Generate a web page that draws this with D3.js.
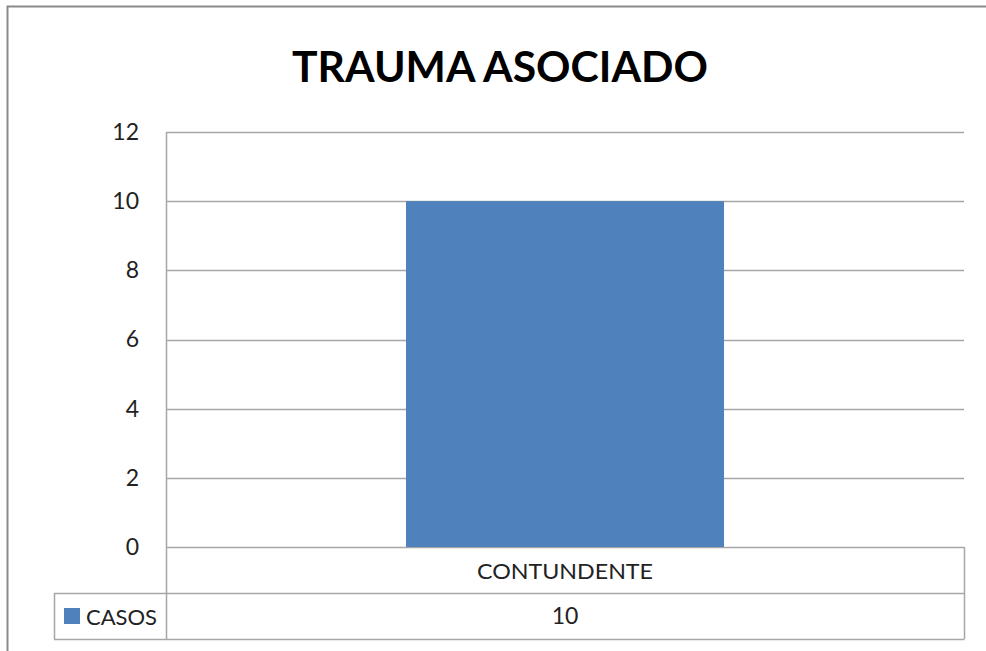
<!DOCTYPE html>
<html><head><meta charset="utf-8">
<script src="https://cdn.jsdelivr.net/npm/d3@7"></script>
<style>body{margin:0;background:#fff}svg{display:block}</style>
</head><body>
<script>
const title = "TRAUMA ASOCIADO";
const categories = ["CONTUNDENTE"];
const seriesName = "CASOS";
const values = [10];
const yTicks = [0, 2, 4, 6, 8, 10, 12];

const W = 986, H = 651;
const svg = d3.select("body").append("svg").attr("width", W).attr("height", H);
const font = "Lato, 'Open Sans', 'DejaVu Sans', sans-serif";

// outer border
svg.append("rect").attr("x", 7.5).attr("y", 6.5).attr("width", W + 10).attr("height", H + 10)
  .attr("fill", "#fff").attr("stroke", "#8a8a8a").attr("stroke-width", 2);

const m = {left: 166, top: 132, right: 964, bottom: 547};
const x = d3.scaleBand().domain(categories).range([m.left, m.right]).paddingInner(0).paddingOuter(0);
const y = d3.scaleLinear().domain([0, 12]).range([m.bottom, m.top]);

// gridlines
svg.append("g").selectAll("line").data(yTicks).join("line")
  .attr("x1", m.left).attr("x2", m.right)
  .attr("y1", d => Math.round(y(d)) + 0.5).attr("y2", d => Math.round(y(d)) + 0.5)
  .attr("stroke", "#a6a6a6").attr("stroke-width", 1.5);

// y axis line
svg.append("line").attr("x1", m.left + 0.5).attr("x2", m.left + 0.5)
  .attr("y1", m.top).attr("y2", 639).attr("stroke", "#a6a6a6").attr("stroke-width", 1.5);

// bars
const barW = 318;
svg.append("g").selectAll("rect").data(values).join("rect")
  .attr("x", (d, i) => x(categories[i]) + x.bandwidth() / 2 - barW / 2)
  .attr("width", barW)
  .attr("y", d => y(d)).attr("height", d => y(0) - y(d))
  .attr("fill", "#4f81bd");

// y tick labels
const yAxis = d3.axisLeft(y).tickValues(yTicks).tickSize(0).tickPadding(27);
const ga = svg.append("g").attr("transform", `translate(${m.left},0)`).call(yAxis);
ga.select(".domain").remove();
ga.selectAll("text").attr("font-family", font).attr("font-size", 23).attr("fill", "#222");

// data table
const rowTop = m.bottom, rowMid = 593, rowBot = 639, tLeft = 54;
const tg = svg.append("g").attr("stroke", "#a6a6a6").attr("stroke-width", 1.5).attr("fill", "none");
tg.append("line").attr("x1", m.right + 0.5).attr("x2", m.right + 0.5).attr("y1", rowTop).attr("y2", rowBot);
tg.append("line").attr("x1", tLeft).attr("x2", m.right).attr("y1", rowMid + 0.5).attr("y2", rowMid + 0.5);
tg.append("line").attr("x1", tLeft).attr("x2", m.right + 0.5).attr("y1", rowBot + 0.5).attr("y2", rowBot + 0.5);
tg.append("line").attr("x1", tLeft + 0.5).attr("x2", tLeft + 0.5).attr("y1", rowMid).attr("y2", rowBot);

svg.selectAll("text.cat").data(categories).join("text").attr("class", "cat")
  .attr("x", d => x(d) + x.bandwidth() / 2).attr("y", 579)
  .attr("text-anchor", "middle").attr("font-family", font).attr("font-size", 21).attr("fill", "#222")
  .attr("textLength", 176).attr("lengthAdjust", "spacingAndGlyphs")
  .text(d => d);
svg.selectAll("text.val").data(values).join("text").attr("class", "val")
  .attr("x", (d, i) => x(categories[i]) + x.bandwidth() / 2).attr("y", 624)
  .attr("text-anchor", "middle").attr("font-family", font).attr("font-size", 23).attr("fill", "#222")
  .text(d => d);

// legend key
svg.append("rect").attr("x", 64).attr("y", 608).attr("width", 16).attr("height", 16).attr("fill", "#4f81bd");
svg.append("text").attr("x", 86).attr("y", 625).attr("font-family", font).attr("font-size", 22)
  .attr("fill", "#222").attr("textLength", 71).attr("lengthAdjust", "spacingAndGlyphs").text(seriesName);

// title
svg.append("text").attr("x", 500).attr("y", 82).attr("text-anchor", "middle")
  .attr("font-family", font).attr("font-weight", "bold").attr("font-size", 42)
  .attr("textLength", 416).attr("lengthAdjust", "spacingAndGlyphs")
  .attr("fill", "#000").text(title);
</script>
</body></html>
